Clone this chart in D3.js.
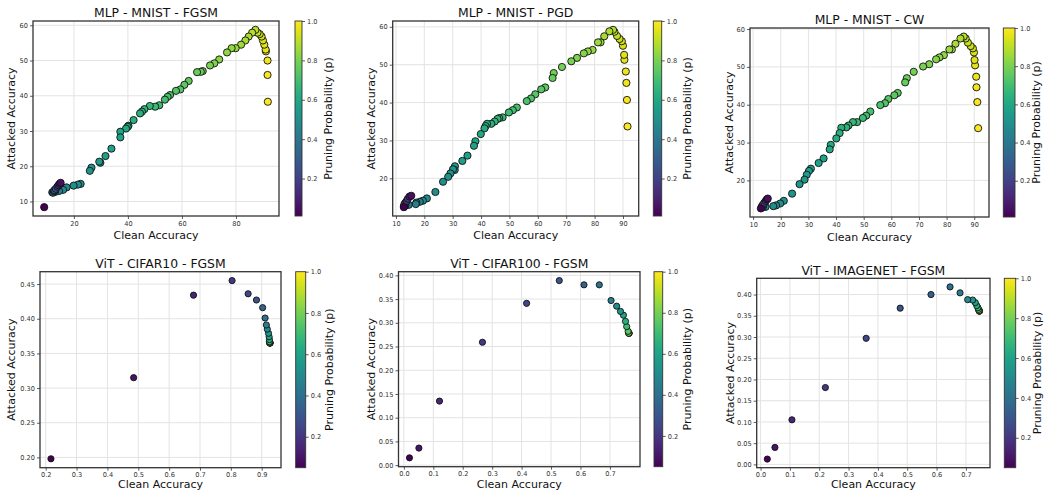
<!DOCTYPE html>
<html><head><meta charset="utf-8">
<script src="https://cdn.jsdelivr.net/npm/d3@7"></script>
<style>body{margin:0;background:#fff} svg{display:block} text{font-family:"DejaVu Sans",sans-serif}</style>
</head><body><svg id="c" width="1044" height="491"></svg>
<script>
// ---------- DATA ----------
// MLP - MNIST - FGSM
const fgsmClean = [91.8,91.7,91.7,91.1,91.0,90.5,90.0,89.5,88.8,88.0, 87.2,86.0,84.7,83.5,81.9,79.9,78.4,76.7,73.8,72.0, 70.4,67.7,67.0,65.6,62.5,60.9,59.4,57.8,55.6,54.7, 53.7,51.6,50.1,48.1,46.1,45.2,44.5,42.1,40.2,39.9, 39.3,37.2,37.2,33.9,31.7,29.8,29.4,26.5,25.9,22.5, 21.5,19.9,17.3,16.0,14.5,13.0,12.0, 12.3,12.6,12.8,13.3,13.9,14.3,14.7,15.1,9.0];
const fgsmAttacked = [38.3,45.9,50.0,52.6,53.1,54.5,55.7,56.8,57.5,57.9, 58.7,57.9,56.8,55.7,54.5,53.5,53.5,52.3,50.3,49.2, 48.6,47.0,46.8,46.7,44.2,43.1,41.8,41.4,40.2,39.7, 38.9,37.3,36.9,37.1,36.2,35.5,35.0,33.1,31.5,31.2, 30.7,29.8,28.2,25.0,22.9,21.0,21.3,19.6,18.7,15.0, 14.8,14.5,14.0,13.3,13.0,12.7,12.6, 12.5,12.9,13.2,13.6,14.2,14.6,15.0,15.3,8.4];
const fgsmP = [1.00,0.99,0.98,0.97,0.96,0.95,0.94,0.93,0.92,0.91, 0.90,0.89,0.88,0.87,0.86,0.85,0.84,0.83,0.82,0.81, 0.80,0.79,0.78,0.77,0.76,0.75,0.74,0.73,0.72,0.71, 0.70,0.69,0.68,0.67,0.66,0.65,0.64,0.63,0.62,0.61, 0.60,0.59,0.58,0.57,0.56,0.55,0.54,0.53,0.52,0.51, 0.50,0.49,0.48,0.47,0.46,0.45,0.44, 0.40,0.35,0.30,0.25,0.20,0.15,0.10,0.05,0.01];

// MLP - MNIST - PGD
const pgdClean = [91.6,91.4,91.2,91.0,90.5,90.4,90.0,89.6,88.8,87.9, 87.0,86.5,85.2,83.4,82.1,81.2,79.3,77.6,76.2,73.8, 71.8,68.5,65.6,65.2,62.6,61.2,59.1,57.6,56.1,52.6, 51.2,49.8,47.6,46.4,45.8,44.8,43.6,42.1,41.6,41.2, 39.9,38.0,37.5,35.2,33.4,30.8,30.7,30.1,29.2,28.4, 26.6,23.9,20.9,19.5,18.4,17.2,17.0,14.5, 13.3,12.8,13.0,13.4,13.8,14.2,14.8,15.4,12.8];
const pgdAttacked = [33.7,40.7,45.2,48.2,51.3,52.6,55.0,56.2,56.8,57.6, 58.7,59.2,58.8,57.5,55.9,55.9,53.9,53.5,53.0,51.8, 50.9,49.4,47.8,46.5,44.0,43.5,42.2,41.1,40.4,38.7, 38.0,37.4,36.1,35.9,35.7,35.0,34.4,34.4,33.8,33.2, 31.7,29.8,28.6,26.0,24.6,23.2,22.2,22.4,21.3,20.4, 19.1,16.4,14.7,14.1,13.8,13.6,13.2,13.0, 12.8,12.6,13.2,13.6,14.0,14.6,15.2,15.4,12.4];
const pgdP = [1.00,0.99,0.98,0.97,0.96,0.95,0.94,0.93,0.92,0.91, 0.90,0.89,0.88,0.87,0.86,0.85,0.84,0.83,0.82,0.81, 0.80,0.79,0.78,0.77,0.76,0.75,0.74,0.73,0.72,0.71, 0.70,0.69,0.68,0.67,0.66,0.65,0.64,0.63,0.62,0.61, 0.60,0.59,0.58,0.57,0.56,0.55,0.54,0.53,0.52,0.51, 0.50,0.49,0.48,0.47,0.46,0.45,0.44,0.43, 0.40,0.35,0.30,0.25,0.20,0.15,0.10,0.05,0.01];

// MLP - MNIST - CW
const cwClean = [91.4,91.1,90.8,90.7,90.3,90.1,89.9,89.5,88.7,87.7, 86.9,86.2,85.0,83.2,81.9,81.0,79.0,77.4,76.2,73.7, 71.5,68.1,65.6,65.0,62.3,61.1,58.9,57.7,56.0,52.4, 50.9,49.7,47.6,46.1,44.5,43.7,41.9,41.3,40.1,38.1, 37.7,35.5,33.7,30.9,30.2,29.4,28.6,26.8,24.1,21.1, 19.8,18.3,17.3,14.5, 13.5,13.2,13.6,14.1,14.6,15.0,15.3,12.8];
const cwAttacked = [33.8,40.7,44.6,47.4,50.4,51.8,53.8,54.9,55.5,56.4, 57.5,58.0,57.5,56.1,54.6,54.6,53.1,52.5,52.0,50.7, 50.1,48.7,47.0,45.9,43.1,42.5,41.5,40.4,39.9,38.2, 37.1,36.5,35.4,35.4,34.5,34.0,33.9,32.5,31.1,29.4, 28.2,25.8,24.6,23.1,22.5,21.5,20.2,19.0,16.5,14.6, 13.9,13.4,13.2,13.0, 12.9,13.2,13.6,14.1,14.6,15.0,15.2,12.6];
const cwP = [1.00,0.99,0.98,0.97,0.96,0.95,0.94,0.93,0.92,0.91, 0.90,0.89,0.88,0.87,0.86,0.85,0.84,0.83,0.82,0.81, 0.80,0.79,0.78,0.77,0.76,0.75,0.74,0.73,0.72,0.71, 0.70,0.69,0.68,0.67,0.66,0.65,0.64,0.63,0.62,0.61, 0.60,0.59,0.58,0.57,0.56,0.55,0.54,0.53,0.52,0.51, 0.50,0.49,0.48,0.47, 0.42,0.35,0.28,0.21,0.15,0.10,0.05,0.01];

// ViT pruning probabilities
const vitP = [0.05,0.10,0.15,0.20,0.25,0.30,0.35,0.40,0.45,0.50,0.55,0.60,0.65,0.70,0.75,0.80,0.85,0.90,0.95,1.00];
// ViT - CIFAR10 - FGSM
const c10Clean = [0.217,0.485,0.679,0.804,0.856,0.883,0.903,0.911,0.915,0.918,0.922,0.924,0.925,0.925,0.926,0.926,0.926,0.927,0.927,0.927];
const c10Attacked = [0.198,0.315,0.434,0.455,0.436,0.427,0.416,0.401,0.391,0.385,0.379,0.374,0.370,0.367,0.366,0.365,0.365,0.365,0.365,0.365];
// ViT - CIFAR100 - FGSM
const c100Clean = [0.019,0.051,0.121,0.267,0.417,0.528,0.612,0.664,0.704,0.723,0.736,0.746,0.753,0.757,0.762,0.764,0.764,0.765,0.765,0.765];
const c100Attacked = [0.0154,0.036,0.135,0.259,0.341,0.389,0.380,0.380,0.347,0.335,0.324,0.316,0.303,0.292,0.282,0.278,0.278,0.278,0.278,0.278];
// ViT - IMAGENET - FGSM
const inClean = [0.023,0.049,0.107,0.221,0.360,0.476,0.581,0.646,0.680,0.706,0.723,0.732,0.737,0.741,0.743,0.745,0.746,0.746,0.746,0.746];
const inAttacked = [0.0125,0.040,0.105,0.181,0.297,0.368,0.400,0.418,0.404,0.388,0.387,0.381,0.374,0.369,0.365,0.362,0.362,0.361,0.361,0.361];

// tick values
const ticksX1 = [20,40,60,80];
const ticksY1 = [10,20,30,40,50,60];
const ticksX23 = [10,20,30,40,50,60,70,80,90];
const ticksY23 = [20,30,40,50,60];
const ticksXc10 = [0.2,0.3,0.4,0.5,0.6,0.7,0.8,0.9];
const ticksYc10 = [0.20,0.25,0.30,0.35,0.40,0.45];
const ticksXvit = [0.0,0.1,0.2,0.3,0.4,0.5,0.6,0.7];
const ticksYc100 = [0.00,0.05,0.10,0.15,0.20,0.25,0.30,0.35,0.40];
const ticksCb = [0.2,0.4,0.6,0.8,1.0];

// ---------- LAYOUT ----------
const panels = [
 {title:"MLP - MNIST - FGSM", cx:fgsmClean, cy:fgsmAttacked, p:fgsmP, x0:33, x1:279, y0:21, y1:216, cb0:295, cb1:302, tY:16.7, xlY:239, ylX:15.3, cbX:332, xt:ticksX1, yt:ticksY1, xf:d3.format("d"), yf:d3.format("d"), r:3.6},
 {title:"MLP - MNIST - PGD", cx:pgdClean, cy:pgdAttacked, p:pgdP, x0:392.7, x1:638.7, y0:21, y1:216, cb0:653.3, cb1:661.7, tY:16.7, xlY:239, ylX:374.7, cbX:691.3, xt:ticksX23, yt:ticksY23, xf:d3.format("d"), yf:d3.format("d"), r:3.6},
 {title:"MLP - MNIST - CW", cx:cwClean, cy:cwAttacked, p:cwP, x0:750, x1:989, y0:28, y1:217, cb0:1003.3, cb1:1015, tY:24, xlY:240.5, ylX:733, cbX:1039.7, xt:ticksX23, yt:ticksY23, xf:d3.format("d"), yf:d3.format("d"), r:3.6},
 {title:"ViT - CIFAR10 - FGSM", cx:c10Clean, cy:c10Attacked, p:vitP, x0:40, x1:281, y0:271.7, y1:467.7, cb0:295.7, cb1:305.7, tY:268.3, xlY:488, ylX:15.3, cbX:333, xt:ticksXc10, yt:ticksYc10, xf:d3.format(".1f"), yf:d3.format(".2f"), r:3.1},
 {title:"ViT - CIFAR100 - FGSM", cx:c100Clean, cy:c100Attacked, p:vitP, x0:398.5, x1:640, y0:271.7, y1:466.7, cb0:654, cb1:662.7, tY:268.3, xlY:488, ylX:374.7, cbX:691, xt:ticksXvit, yt:ticksYc100, xf:d3.format(".1f"), yf:d3.format(".2f"), r:3.1},
 {title:"ViT - IMAGENET - FGSM", cx:inClean, cy:inAttacked, p:vitP, x0:756.7, x1:990, y0:278.3, y1:467.7, cb0:1004.3, cb1:1015.7, tY:275, xlY:488.3, ylX:733.7, cbX:1041, xt:ticksXvit, yt:ticksYc100, xf:d3.format(".1f"), yf:d3.format(".2f"), r:3.1}
];

const svg = d3.select("#c");
const defs = svg.append("defs");
const frameCol = "#333", tickFs = 6.6;

function padDomain(arr){
  const [lo, hi] = d3.extent(arr); const m = (hi - lo) * 0.05; return [lo - m, hi + m];
}

panels.forEach((P, i) => {
  const g = svg.append("g");
  const x = d3.scaleLinear().domain(padDomain(P.cx)).range([P.x0, P.x1]);
  const y = d3.scaleLinear().domain(padDomain(P.cy)).range([P.y1, P.y0]);
  const [pmin, pmax] = d3.extent(P.p);
  const col = d3.scaleSequential(d3.interpolateViridis).domain([pmin, pmax]);

  // grid
  g.append("g").selectAll("line").data(P.xt).join("line")
    .attr("x1", d => x(d)).attr("x2", d => x(d)).attr("y1", P.y0).attr("y2", P.y1)
    .attr("stroke", "#e3e3e3").attr("stroke-width", 1);
  g.append("g").selectAll("line").data(P.yt).join("line")
    .attr("y1", d => y(d)).attr("y2", d => y(d)).attr("x1", P.x0).attr("x2", P.x1)
    .attr("stroke", "#e3e3e3").attr("stroke-width", 1);

  // points (high p drawn first)
  const idx = d3.range(P.p.length).sort((a, b) => P.p[b] - P.p[a]);
  g.append("g").selectAll("circle").data(idx).join("circle")
    .attr("cx", k => x(P.cx[k])).attr("cy", k => y(P.cy[k])).attr("r", P.r)
    .attr("fill", k => col(P.p[k])).attr("stroke", "#111").attr("stroke-width", 0.9);

  // frame
  g.append("rect").attr("x", P.x0).attr("y", P.y0).attr("width", P.x1 - P.x0).attr("height", P.y1 - P.y0)
    .attr("fill", "none").attr("stroke", frameCol).attr("stroke-width", 1.3);

  // axes
  const xa = d3.axisBottom(x).tickValues(P.xt).tickFormat(P.xf).tickSize(3).tickPadding(2);
  const ya = d3.axisLeft(y).tickValues(P.yt).tickFormat(P.yf).tickSize(3).tickPadding(2);
  const gx = g.append("g").attr("transform", `translate(0,${P.y1})`).call(xa);
  const gy = g.append("g").attr("transform", `translate(${P.x0},0)`).call(ya);
  [gx, gy].forEach(a => {
    a.select(".domain").remove();
    a.selectAll(".tick line").attr("stroke", frameCol).attr("stroke-width", 0.8);
    a.selectAll(".tick text").attr("fill", "#333").style("font-size", tickFs + "px").style("font-family", "DejaVu Sans");
  });

  // titles and labels
  g.append("text").attr("x", (P.x0 + P.x1) / 2).attr("y", P.tY).attr("text-anchor", "middle")
    .style("font-size", "12.4px").attr("fill", "#111").text(P.title);
  g.append("text").attr("x", (P.x0 + P.x1) / 2).attr("y", P.xlY).attr("text-anchor", "middle")
    .style("font-size", "11px").attr("fill", "#111").text("Clean Accuracy");
  g.append("text").attr("transform", `translate(${P.ylX},${(P.y0 + P.y1) / 2}) rotate(-90)`).attr("text-anchor", "middle")
    .style("font-size", "11px").attr("fill", "#111").text("Attacked Accuracy");

  // colorbar
  const gid = "vg" + i;
  const grad = defs.append("linearGradient").attr("id", gid).attr("x1", 0).attr("y1", 1).attr("x2", 0).attr("y2", 0);
  d3.range(0, 1.0001, 0.05).forEach(t => grad.append("stop").attr("offset", t).attr("stop-color", d3.interpolateViridis(t)));
  const cy = d3.scaleLinear().domain([pmin, pmax]).range([P.y1, P.y0]);
  g.append("rect").attr("x", P.cb0).attr("y", P.y0).attr("width", P.cb1 - P.cb0).attr("height", P.y1 - P.y0)
    .attr("fill", `url(#${gid})`).attr("stroke", frameCol).attr("stroke-width", 0.9);
  const ca = d3.axisRight(cy).tickValues(ticksCb).tickFormat(d3.format(".1f")).tickSize(3).tickPadding(2);
  const gc = g.append("g").attr("transform", `translate(${P.cb1},0)`).call(ca);
  gc.select(".domain").remove();
  gc.selectAll(".tick line").attr("stroke", frameCol).attr("stroke-width", 0.8);
  gc.selectAll(".tick text").attr("fill", "#333").style("font-size", tickFs + "px").style("font-family", "DejaVu Sans");
  g.append("text").attr("transform", `translate(${P.cbX},${(P.y0 + P.y1) / 2}) rotate(-90)`).attr("text-anchor", "middle")
    .style("font-size", "11px").attr("fill", "#111").text("Pruning Probability (p)");
});
</script></body></html>
